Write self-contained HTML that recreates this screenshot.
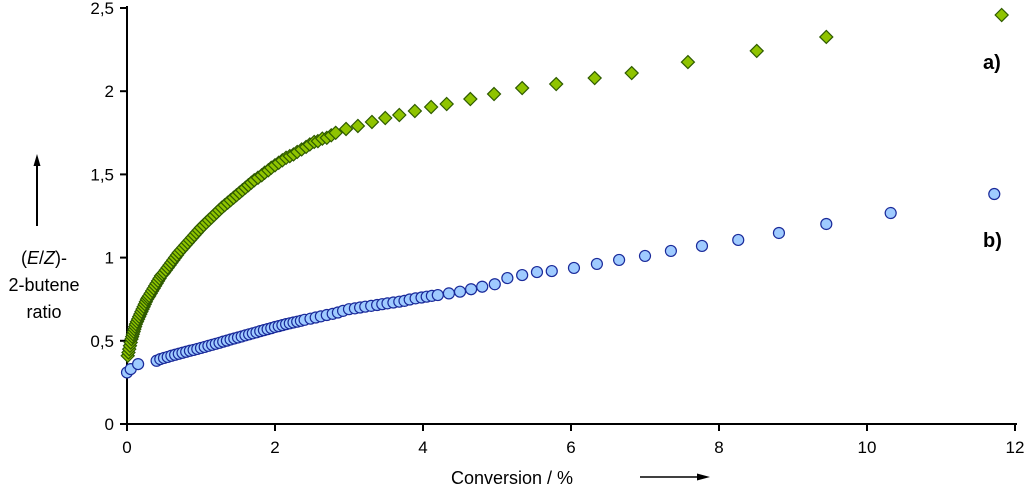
<!DOCTYPE html>
<html><head><meta charset="utf-8"><style>
html,body{margin:0;padding:0;background:#fff;}
svg{display:block;font-family:"Liberation Sans",sans-serif;}
</style></head><body>
<svg id="chart" width="1024" height="487" viewBox="0 0 1024 487">
<g id="axes"></g><g id="marks"></g>
<text x="44" y="264" font-size="18" text-anchor="middle">(<tspan font-style="italic">E</tspan>/<tspan font-style="italic">Z</tspan>)-</text>
<text x="44" y="291" font-size="18" text-anchor="middle">2-butene</text>
<text x="44" y="318" font-size="18" text-anchor="middle">ratio</text>
<g><line x1="37" y1="226" x2="37" y2="162" stroke="#000" stroke-width="2"/><polygon points="37,154 33.5,166 40.5,166" fill="#000"/></g>
<text x="512" y="484" font-size="18" text-anchor="middle">Conversion / %</text>
<g><line x1="640" y1="477" x2="700" y2="477" stroke="#000" stroke-width="1.5"/><polygon points="710,477 697,473.5 697,480.5" fill="#000"/></g>
<text x="983" y="69" font-size="20" font-weight="bold">a)</text>
<text x="983" y="247" font-size="20" font-weight="bold">b)</text>
</svg>
<script>
const xTicks=[0,2,4,6,8,10,12];
const xTickLabels=["0","2","4","6","8","10","12"];
const yTicks=[0,0.5,1,1.5,2,2.5];
const yTickLabels=["0","0,5","1","1,5","2","2,5"];
const seriesAX=[0.01,0.02,0.03,0.04,0.05,0.06,0.07,0.08,0.09,0.1,0.11,0.12,0.135,0.15,0.165,0.18,0.195,0.21,0.225,0.24,0.255,0.27,0.285,0.3,0.32,0.34,0.36,0.38,0.4,0.42,0.44,0.46,0.48,0.5,0.525,0.55,0.575,0.6,0.625,0.65,0.675,0.7,0.73,0.76,0.79,0.82,0.85,0.88,0.91,0.94,0.97,1.0,1.035,1.07,1.105,1.14,1.175,1.21,1.245,1.28,1.32,1.36,1.4,1.44,1.48,1.52,1.56,1.6,1.64,1.68,1.72,1.77,1.82,1.86,1.91,1.95,2.0,2.05,2.1,2.15,2.2,2.25,2.3,2.36,2.42,2.47,2.53,2.58,2.64,2.7,2.76,2.82,2.96,3.12,3.31,3.49,3.68,3.89,4.11,4.32,4.64,4.96,5.34,5.80,6.32,6.82,7.58,8.51,9.45,11.82];
const seriesAY=[0.41,0.43,0.45,0.47,0.49,0.51,0.525,0.54,0.555,0.57,0.585,0.6,0.615,0.63,0.645,0.66,0.675,0.69,0.705,0.72,0.735,0.75,0.76,0.77,0.785,0.8,0.815,0.83,0.845,0.86,0.875,0.89,0.9,0.91,0.925,0.94,0.955,0.97,0.985,1.0,1.015,1.03,1.045,1.06,1.075,1.09,1.105,1.12,1.135,1.15,1.165,1.18,1.195,1.21,1.225,1.24,1.255,1.27,1.285,1.3,1.315,1.33,1.345,1.36,1.375,1.39,1.405,1.42,1.435,1.45,1.465,1.48,1.495,1.51,1.525,1.54,1.555,1.57,1.585,1.6,1.61,1.62,1.635,1.65,1.665,1.68,1.695,1.7,1.715,1.72,1.735,1.75,1.773,1.791,1.815,1.839,1.857,1.881,1.905,1.923,1.953,1.983,2.019,2.043,2.079,2.109,2.175,2.242,2.326,2.458];
const seriesBX=[0,0.05,0.15,0.4,0.45,0.5,0.55,0.6,0.65,0.7,0.75,0.8,0.85,0.9,0.95,1.0,1.05,1.1,1.15,1.2,1.25,1.3,1.35,1.4,1.45,1.5,1.55,1.6,1.65,1.7,1.75,1.8,1.85,1.9,1.95,2.0,2.05,2.1,2.15,2.2,2.25,2.3,2.35,2.4,2.48,2.55,2.62,2.7,2.78,2.85,2.92,3.0,3.08,3.15,3.22,3.3,3.38,3.45,3.52,3.6,3.68,3.75,3.82,3.9,3.98,4.05,4.12,4.2,4.35,4.5,4.65,4.8,4.97,5.14,5.34,5.54,5.74,6.04,6.35,6.65,7.0,7.35,7.77,8.26,8.81,9.45,10.32,11.72];
const seriesBY=[0.31,0.33,0.36,0.38,0.39,0.397,0.403,0.41,0.416,0.422,0.428,0.434,0.44,0.445,0.451,0.457,0.463,0.47,0.476,0.482,0.488,0.495,0.501,0.508,0.514,0.52,0.526,0.533,0.539,0.545,0.551,0.558,0.564,0.57,0.576,0.583,0.588,0.594,0.6,0.605,0.61,0.615,0.62,0.626,0.633,0.64,0.647,0.655,0.662,0.67,0.68,0.69,0.695,0.7,0.705,0.71,0.715,0.72,0.725,0.73,0.735,0.74,0.748,0.755,0.76,0.765,0.77,0.775,0.785,0.795,0.81,0.825,0.84,0.877,0.895,0.913,0.919,0.938,0.962,0.986,1.01,1.04,1.07,1.106,1.148,1.202,1.268,1.382];
const X0=127,X1=1015,Y0=424,Y1=8;
function xs(v){return X0+(v-0)/(12-0)*(X1-X0);}
function ys(v){return Y0-(v-0)/(2.5-0)*(Y0-Y1);}
const NS="http://www.w3.org/2000/svg";
const axes=document.getElementById('axes'),marks=document.getElementById('marks');
function mk(tag,attrs,parent){const e=document.createElementNS(NS,tag);for(const k in attrs)e.setAttribute(k,attrs[k]);parent.appendChild(e);return e;}
let e=mk('line',{x1:X0,y1:Y0,x2:X1+2,y2:Y0,stroke:'#000','stroke-width':2},axes);


e=mk('line',{x1:X0,y1:Y0+1,x2:X0,y2:Y1-2,stroke:'#000','stroke-width':2},axes);


xTicks.forEach((t,i)=>{
 const x=xs(t);
 const l=mk('line',{x1:x,y1:Y0,x2:x,y2:Y0+7,stroke:'#000','stroke-width':2},axes);
 
 
 const tx=mk('text',{x:x,y:Y0+29,'font-size':17,'text-anchor':'middle'},axes);
 tx.textContent=xTickLabels[i];
 
 
});
yTicks.forEach((t,i)=>{
 const y=ys(t);
 const l=mk('line',{x1:X0-7,y1:y,x2:X0,y2:y,stroke:'#000','stroke-width':2},axes);
 
 
 const tx=mk('text',{x:X0-13,y:y+6,'font-size':17,'text-anchor':'end'},axes);
 tx.textContent=yTickLabels[i];
 
 
});
seriesBX.forEach((v,i)=>{
 const c=mk('circle',{cx:xs(v),cy:ys(seriesBY[i]),r:5.5,fill:'#9fcbff',stroke:'#1a2a9a','stroke-width':1.2},marks);
 
 
});
seriesAX.forEach((v,i)=>{
 const x=xs(v),y=ys(seriesAY[i]),d=6.5;
 const p=mk('polygon',{points:`${x},${y-d} ${x+d},${y} ${x},${y+d} ${x-d},${y}`,fill:'#8fc400',stroke:'#2e5a00','stroke-width':1.2},marks);
 
 
});
</script>
</body></html>
